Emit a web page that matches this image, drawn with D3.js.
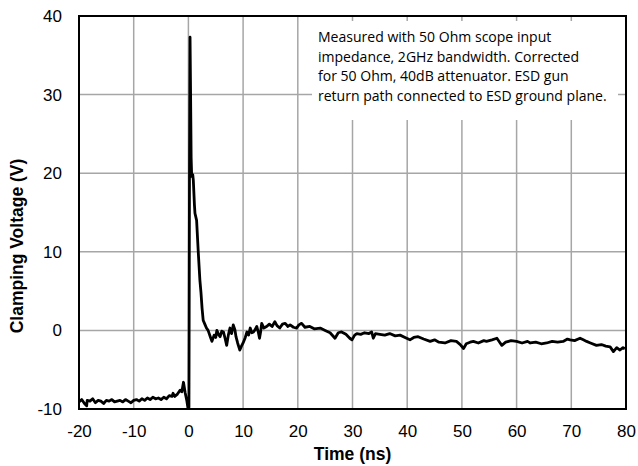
<!DOCTYPE html>
<html>
<head>
<meta charset="utf-8">
<script src="https://cdn.jsdelivr.net/npm/d3@7"></script>
<style>
  body { margin: 0; background: #fff; }
  svg { display: block; }
</style>
</head>
<body>
<script>
// chart values
const timeNs = [
  -20, -19.5, -19, -18.6, -18.5, -18, -17.5, -17, -16.5, -16, -15.5, -15, -14.5, -14, -13.5, -13,
  -12.5, -12, -11.5, -11, -10.5, -10, -9.5, -9, -8.5, -8, -7.5, -7, -6.5, -6, -5.5, -5,
  -4.5, -4, -3.5, -3, -2.8, -2.5, -2, -1.5, -1.2, -0.9, -0.6, -0.3, -0.1,
  0.1, 0.2, 0.3, 0.4, 0.5, 0.6, 0.8, 0.9, 1.1, 1.2, 1.5, 1.8, 2.1, 2.3, 2.5, 2.7,
  3.0, 3.3, 3.6, 4.0, 4.3, 4.7, 5.0, 5.2, 5.5, 5.8, 6.1, 6.4, 6.7, 7.0, 7.3, 7.6,
  7.9, 8.2, 8.5, 8.7, 9.0, 9.4, 9.7, 10.0, 10.4, 10.7, 11.0, 11.3, 11.6, 11.9, 12.2, 12.5,
  12.8, 13.0, 13.2, 13.4, 13.8, 14.3, 14.8, 15.3, 15.8, 16.2, 16.7, 17.2, 17.7, 18.2, 18.6, 19.2,
  19.8, 20.2, 20.7, 21.3, 22.2, 23.0, 24.1, 25.0, 25.9, 26.8, 27.4, 28.0, 28.8, 29.5, 29.9, 30.4,
  30.8, 31.5, 32.2, 33.0, 33.5, 33.8, 34.2, 35.0, 35.9, 36.8, 37.8, 38.7, 39.6, 40.5, 41.2, 42.0,
  43.0, 44.2, 45.0, 45.8, 46.9, 48.0, 49.0, 49.7, 50.3, 50.8, 51.5, 52.1, 53.0, 54.0, 54.5, 55.5,
  56.4, 56.9, 57.3, 58.0, 59.0, 60.0, 61.0, 62.0, 62.5, 63.5, 64.5, 65.5, 66.5, 67.5, 68.5, 69.3,
  69.8, 70.6, 71.6, 72.2, 72.8, 73.5, 74.6, 75.5, 76.3, 77.1, 77.7, 78.3, 78.9, 79.4, 79.8
];
const clampV = [
  -9.1, -8.8, -9.3, -9.6, -8.9, -9.0, -8.7, -9.2, -8.9, -9.0, -9.3, -8.9, -9.0, -8.8, -9.1, -9.0,
  -8.9, -9.1, -8.8, -9.0, -9.2, -8.9, -8.8, -9.0, -8.7, -8.9, -8.6, -8.8, -8.5, -8.7, -8.6, -8.8,
  -8.5, -8.7, -8.3, -8.4, -8.0, -8.4, -8.1, -7.6, -7.8, -6.6, -7.9, -8.9, -9.8,
  -9.8, 20, 37.3, 30, 22, 19.6, 19.8, 19.1, 16, 14.9, 14.0, 10, 6.4, 4.8, 2.8, 1.3,
  0.8, 0.3, 0.0, -0.8, -1.4, -0.6, -0.9, 0.0, -0.5, -0.8, -0.1, -0.2, -1.0, -1.9, -0.6, 0.3,
  -0.4, 0.7, 0.1, -0.8, -1.6, -2.5, -2.0, -1.6, -0.9, -0.2, -0.6, 0.3, -0.3, -0.2, 0.1, 0.5,
  -0.3, -1.0, -0.2, 0.9, 0.3, 0.5, 0.8, 0.5, 1.1, 0.6, 0.3, 0.8, 0.9, 0.5, 0.7, 0.4,
  0.3, 0.7, 0.9, 0.4, 0.5, 0.2, 0.3, 0.0, -0.3, -1.0, -0.3, -0.2, -0.5, -1.0, -1.2, -0.6,
  -0.4, -0.5, -0.3, -0.4, -0.2, -1.0, -0.4, -0.5, -0.6, -0.4, -0.7, -0.6, -0.9, -1.2, -0.9, -0.8,
  -1.1, -1.4, -1.2, -1.5, -1.6, -1.3, -1.4, -1.8, -2.3, -1.7, -1.5, -1.4, -1.6, -1.3, -1.4, -1.2,
  -1.0, -1.5, -1.9, -1.5, -1.3, -1.4, -1.6, -1.4, -1.6, -1.5, -1.7, -1.6, -1.4, -1.5, -1.4, -1.1,
  -1.2, -1.3, -1.0, -1.2, -1.4, -1.6, -1.9, -1.8, -2.0, -2.1, -2.7, -2.2, -2.5, -2.2, -2.3
];

const xTicks = [-20, -10, 0, 10, 20, 30, 40, 50, 60, 70, 80];
const yTicks = [-10, 0, 10, 20, 30, 40];
const noteLines = [
  "Measured with 50 Ohm scope input",
  "impedance, 2GHz bandwidth. Corrected",
  "for 50 Ohm, 40dB attenuator. ESD gun",
  "return path connected to ESD ground plane."
];

const width = 638;
const height = 466;
const marginTop = 16;
const marginRight = 12;
const marginBottom = 57;
const marginLeft = 79;
const labelFont = "'Liberation Sans', Arial, sans-serif";

const x = d3.scaleLinear()
    .domain([-20, 80])
    .range([marginLeft, width - marginRight]);

const y = d3.scaleLinear()
    .domain([-10, 40])
    .range([height - marginBottom, marginTop]);

const svg = d3.select("body").append("svg")
    .attr("width", width)
    .attr("height", height);

// gridlines
svg.append("g")
    .selectAll("line")
    .data(xTicks.slice(1, -1))
    .join("line")
        .attr("x1", d => x(d)).attr("x2", d => x(d))
        .attr("y1", y(40)).attr("y2", y(-10))
        .attr("stroke", "#a6a6a6")
        .attr("stroke-width", 1.5);

svg.append("g")
    .selectAll("line")
    .data(yTicks.slice(1, -1))
    .join("line")
        .attr("x1", x(-20)).attr("x2", x(80))
        .attr("y1", d => y(d)).attr("y2", d => y(d))
        .attr("stroke", "#a6a6a6")
        .attr("stroke-width", 1.5);

// note box, white so it hides the grid behind it
svg.append("rect")
    .attr("x", 312)
    .attr("y", 21)
    .attr("width", 306)
    .attr("height", 99)
    .attr("fill", "#fff");

const note = svg.append("g")
    .attr("font-family", "'Open Sans', sans-serif")
    .attr("font-size", 12)
    .attr("fill", "#000");

note.selectAll("text")
    .data(noteLines)
    .join("text")
        .attr("x", 318)
        .attr("y", (d, i) => 42 + i * 19.5)
        .text(d => d);

// fit the longest line to the width it has in the picture
const widest = d3.max(note.selectAll("text").nodes(), n => n.getComputedTextLength());
note.attr("font-size", 12 * 289 / widest);

// trace
const pts = timeNs.map((t, i) => ({ t: t, v: clampV[i] }));

svg.append("path")
    .datum(pts)
    .attr("fill", "none")
    .attr("stroke", "#000")
    .attr("stroke-width", 2.8)
    .attr("stroke-linejoin", "round")
    .attr("d", d3.line().x(d => x(d.t)).y(d => y(d.v)));

// frame
svg.append("rect")
    .attr("x", x(-20))
    .attr("y", y(40))
    .attr("width", x(80) - x(-20))
    .attr("height", y(-10) - y(40))
    .attr("fill", "none")
    .attr("stroke", "#000")
    .attr("stroke-width", 2);

// axes, labels only (plain hyphen for negatives)
const xAxis = d3.axisBottom(x).tickValues(xTicks).tickSize(0).tickPadding(16).tickFormat(d => String(d));
const yAxis = d3.axisLeft(y).tickValues(yTicks).tickSize(0).tickPadding(17).tickFormat(d => String(d));

svg.append("g")
    .attr("transform", `translate(0,${height - marginBottom})`)
    .call(xAxis)
    .call(g => g.select(".domain").remove())
    .call(g => g.selectAll("text")
        .attr("font-family", labelFont)
        .attr("font-size", 17)
        .attr("fill", "#000"));

svg.append("g")
    .attr("transform", `translate(${marginLeft},0)`)
    .call(yAxis)
    .call(g => g.select(".domain").remove())
    .call(g => g.selectAll("text")
        .attr("font-family", labelFont)
        .attr("font-size", 17)
        .attr("fill", "#000"));

svg.append("text")
    .attr("x", (x(-20) + x(80)) / 2)
    .attr("y", 460)
    .attr("text-anchor", "middle")
    .attr("font-family", labelFont)
    .attr("font-size", 17.5)
    .attr("font-weight", "bold")
    .text("Time (ns)");

svg.append("text")
    .attr("transform", "translate(23,246) rotate(-90)")
    .attr("text-anchor", "middle")
    .attr("font-family", labelFont)
    .attr("font-size", 17.5)
    .attr("font-weight", "bold")
    .text("Clamping Voltage (V)");
</script>
</body>
</html>
